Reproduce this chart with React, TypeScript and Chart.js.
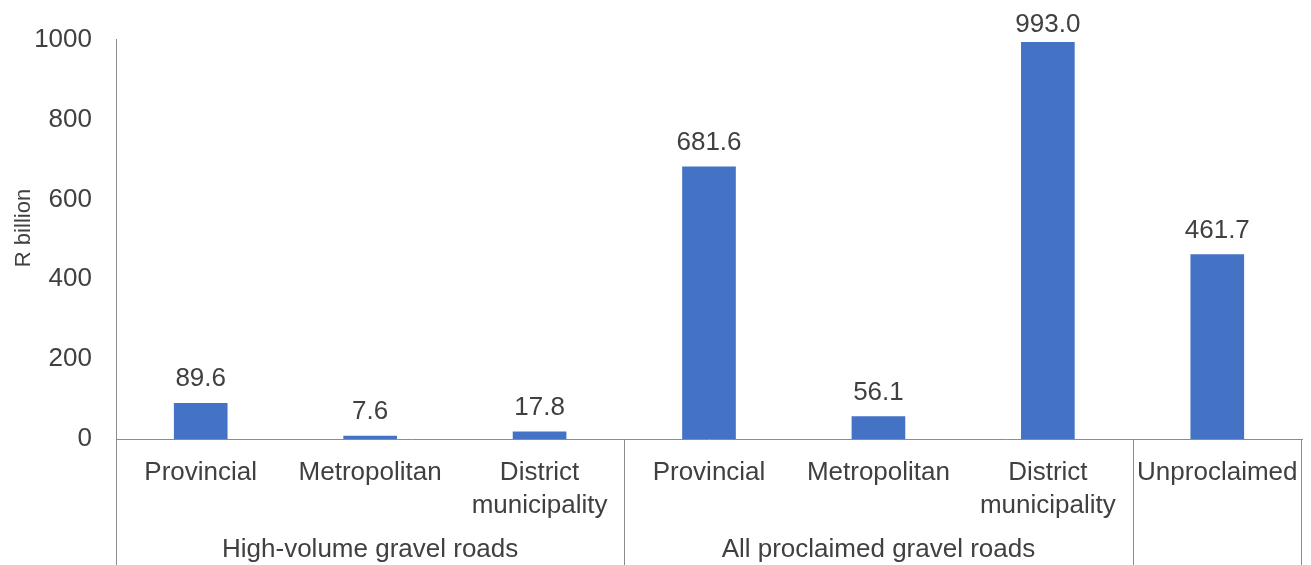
import React, { useEffect, useRef } from "react";
import { Chart, registerables } from "chart.js";

Chart.register(...registerables);

const categories: string[][] = [
  ["Provincial"],
  ["Metropolitan"],
  ["District", "municipality"],
  ["Provincial"],
  ["Metropolitan"],
  ["District", "municipality"],
  ["Unproclaimed"],
];
const values: number[] = [89.6, 7.6, 17.8, 681.6, 56.1, 993.0, 461.7];
const groupLabels: string[] = ["High-volume gravel roads", "All proclaimed gravel roads", ""];
const groupSizes: number[] = [3, 3, 1];
const yTitle = "R billion";
const yMin = 0;
const yMax = 1000;
const yStep = 200;

const FONT = "'Liberation Sans', Arial, sans-serif";
const TEXT = "#404040";
const LINE = "#8c8c8c";
const BAR = "#4472C4";

const customPlugin = {
  id: "custom",
  afterDraw(chart: any) {
    const ctx = chart.ctx as CanvasRenderingContext2D;
    const area = chart.chartArea;
    const x = chart.scales.x;
    const H = chart.height;
    const n = categories.length;
    const w = (x.right - x.left) / n;
    ctx.save();
    ctx.strokeStyle = LINE;
    ctx.lineWidth = 1;
    const vline = (px: number) => {
      const xx = Math.round(px) + 0.5;
      ctx.beginPath();
      ctx.moveTo(xx, area.bottom);
      ctx.lineTo(xx, H);
      ctx.stroke();
    };
    vline(x.left);
    let idx = 0;
    groupSizes.forEach((s) => {
      idx += s;
      vline(x.left + idx * w - (idx === n ? 1 : 0));
    });

    ctx.fillStyle = TEXT;
    ctx.font = `26px ${FONT}`;
    ctx.textAlign = "center";
    ctx.textBaseline = "alphabetic";
    categories.forEach((lines, i) => {
      const cx = x.getPixelForValue(i);
      lines.forEach((ln, j) => {
        ctx.fillText(ln, cx, area.bottom + 41 + j * 33);
      });
    });

    idx = 0;
    groupSizes.forEach((s, g) => {
      const cx = x.left + (idx + s / 2) * w;
      idx += s;
      if (groupLabels[g]) ctx.fillText(groupLabels[g], cx, area.bottom + 118);
    });

    const meta = chart.getDatasetMeta(0);
    meta.data.forEach((bar: any, i: number) => {
      const base = Math.max(bar.y - 17, 32);
      ctx.fillText(values[i].toFixed(1), bar.x, base);
    });

    ctx.save();
    ctx.translate(24, 228);
    ctx.rotate(-Math.PI / 2);
    ctx.font = `22px ${FONT}`;
    ctx.textBaseline = "middle";
    ctx.fillText(yTitle, 0, 0);
    ctx.restore();

    ctx.restore();
  },
};

export default function App() {
  const ref = useRef<HTMLCanvasElement | null>(null);
  useEffect(() => {
    if (!ref.current) return;
    const chart = new Chart(ref.current, {
      type: "bar",
      data: {
        labels: categories.map((c) => c.join(" ")),
        datasets: [
          {
            data: values,
            backgroundColor: BAR,
            barThickness: 53,
          },
        ],
      },
      options: {
        responsive: false,
        animation: false,
        layout: { padding: { top: 36, right: 9, bottom: 126, left: 0 } },
        plugins: { legend: { display: false }, tooltip: { enabled: false } },
        scales: {
          x: {
            grid: { display: false, drawTicks: false },
            border: { display: true, color: LINE, width: 1 },
            ticks: { display: false },
            afterFit: (s: any) => {
              s.height = 0;
            },
          },
          y: {
            min: yMin,
            max: yMax,
            grid: { display: false, drawTicks: false },
            border: { display: true, color: LINE, width: 1 },
            ticks: {
              stepSize: yStep,
              padding: 24,
              color: TEXT,
              font: { family: FONT, size: 26 },
              callback: (v: any) => String(v),
            },
            afterFit: (s: any) => {
              s.width = 116;
            },
          },
        },
      },
      plugins: [customPlugin],
    });
    return () => chart.destroy();
  }, []);
  return (
    <div style={{ position: "absolute", left: 0, top: 0, width: 1311, height: 565, background: "#fff" }}>
      <canvas ref={ref} width={1311} height={565} />
    </div>
  );
}
